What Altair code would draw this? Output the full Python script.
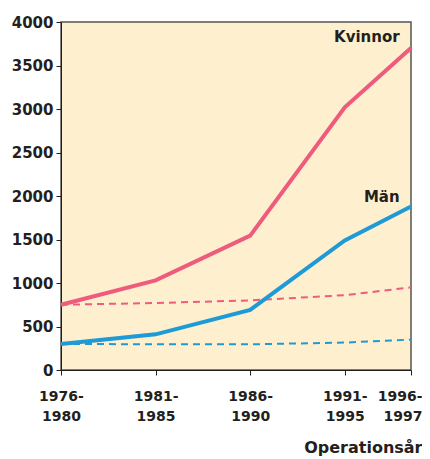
import altair as alt
import pandas as pd

periods = ["1976-1980", "1981-1985", "1986-1990", "1991-1995", "1996-1997"]
xpos = [0, 5, 10, 15, 18.5]
kvinnor = [750, 1030, 1545, 3020, 3700]
man = [300, 410, 690, 1490, 1880]
kvinnor_exp = [750, 770, 800, 860, 950]
man_exp = [300, 295, 295, 315, 350]

PINK = "#EE5B7C"
BLUE = "#1E9AD6"
FONT = "DejaVu Sans"
INK = "#231f20"

rows = []
for name, vals, kind in [("Kvinnor", kvinnor, "obs"), ("Män", man, "obs"),
                         ("Kvinnor", kvinnor_exp, "exp"), ("Män", man_exp, "exp")]:
    for p, x, v in zip(periods, xpos, vals):
        rows.append({"period": p, "x": x, "value": v, "serie": name, "kind": kind, "key": name + kind})
df = pd.DataFrame(rows)

label_df = pd.DataFrame({"x": [17.9, 17.9], "value": [3830, 1990], "text": ["Kvinnor", "Män"]})

label_expr = " : ".join(
    f"datum.value == {x} ? ['{p.split('-')[0]}-', '{p.split('-')[1]}']" for p, x in zip(periods, xpos)
) + " : ''"

last = xpos[-1]
xscale = alt.Scale(domain=[0, 18.5], nice=False, zero=False)
yscale = alt.Scale(domain=[0, 4000], nice=False)
color = alt.Color("serie:N", scale=alt.Scale(domain=["Kvinnor", "Män"], range=[PINK, BLUE]), legend=None)

xaxis = alt.Axis(values=xpos, labelExpr=label_expr, grid=False, title="Operationsår",
                 titleAnchor="end", titleAlign="right", titleX=361, titleY=82, titleBaseline="alphabetic",
                 labelFontSize=14, labelFontWeight="bold", labelFont=FONT, labelColor=INK,
                 titleFontSize=16, titleFont=FONT, titleFontWeight="bold", titleColor=INK,
                 tickSize=5, labelPadding=14, labelLineHeight=20, domainColor=INK, tickColor=INK,
                 labelFlush=False,
                 labelAlign={"condition": {"test": f"datum.value == {last}", "value": "right"}, "value": "center"},
                 labelOffset={"condition": {"test": f"datum.value == {last}", "value": 11}, "value": 0})
yaxis = alt.Axis(values=list(range(0, 4001, 500)), format="d", grid=False, title=None,
                 labelFontSize=15, labelFontWeight="bold", labelFont=FONT, labelColor=INK,
                 tickSize=5, labelPadding=3, domainColor=INK, tickColor=INK)

base = alt.Chart(df)
solid = base.transform_filter(alt.datum.kind == "obs").mark_line(strokeWidth=4).encode(
    x=alt.X("x:Q", scale=xscale, axis=xaxis),
    y=alt.Y("value:Q", scale=yscale, axis=yaxis),
    color=color, detail="key:N")
dashed = base.transform_filter(alt.datum.kind == "exp").mark_line(strokeWidth=2, strokeDash=[7, 5]).encode(
    x=alt.X("x:Q", scale=xscale),
    y=alt.Y("value:Q", scale=yscale),
    color=color, detail="key:N")
labels = alt.Chart(label_df).mark_text(align="right", baseline="middle", fontSize=15,
                                       fontWeight="bold", font=FONT, color=INK).encode(
    x=alt.X("x:Q", scale=xscale), y=alt.Y("value:Q", scale=yscale), text="text:N")

chart = alt.layer(dashed, solid, labels).properties(
    width=350, height=348, autosize=alt.AutoSizeParams(type="none"),
    padding={"left": 53, "top": 14, "right": 11, "bottom": 88},
    background="white"
).configure_view(fill="#FEEFCF", stroke="#555555", strokeWidth=1.5)

chart.save("out.html", embed_options={"renderer": "svg", "actions": False})
